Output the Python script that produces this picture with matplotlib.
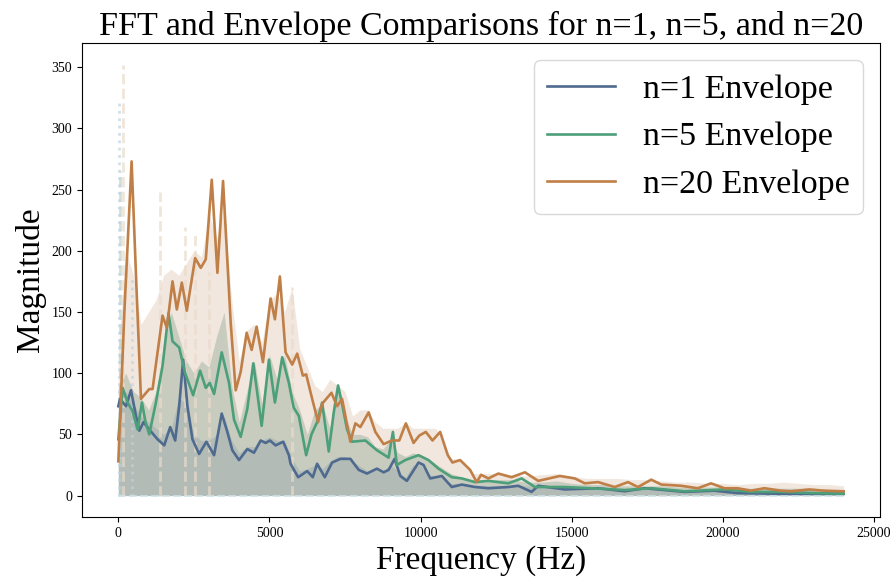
import numpy as np
import matplotlib
matplotlib.use('Agg')
import matplotlib.pyplot as plt

plt.rcParams['font.family'] = ['Liberation Serif', 'DejaVu Serif']

# ---- envelope curves (Hz, magnitude) ----
env1_f = [0, 56, 254, 419, 584, 693, 835, 1023, 1297, 1518, 1716, 1881, 2013, 2145, 2287, 2452,
          2673, 2914, 3168, 3421, 3607, 3772, 3993, 4268, 4488, 4709, 4874, 5016, 5204, 5455,
          5643, 5698, 5950, 6248, 6435, 6577, 6831, 7073, 7348, 7678, 7953, 8227, 8557, 8778,
          8943, 9141, 9329, 9547, 9933, 10098, 10319, 10704, 11033, 11363, 11804, 12243, 12903,
          13233, 13673, 13893, 14774, 15873, 16754, 17413, 18733, 19723, 20493, 21923, 24000]
env1_m = [73, 79, 73, 86, 65, 53, 60, 54, 46, 41, 56, 45, 73, 111, 73, 46,
          34, 44, 33, 67, 52, 37, 29, 38, 35, 45, 43, 45, 41, 44,
          33, 26, 15, 20, 15, 26, 15, 27, 30, 30, 21, 18, 22, 19,
          21, 30, 16, 12, 27, 25, 14, 16, 7, 9, 7, 6, 7,
          8, 3, 8, 5, 6, 3.5, 6, 3, 4, 2, 1.5, 1.5]

env5_f = [0, 142, 307, 472, 637, 781, 900, 1023, 1243, 1463, 1661, 1793, 2013, 2211, 2475, 2706,
          2893, 3025, 3168, 3421, 3663, 3828, 4048, 4268, 4466, 4742, 4983, 5181, 5422, 5643,
          5800, 5973, 6215, 6391, 6577, 6743, 6963, 7128, 7271, 7403, 7568, 7733, 8174, 8557,
          8943, 9085, 9217, 9494, 9933, 10263, 10593, 11033, 11363, 11804, 12243, 12903, 13344,
          13784, 14774, 15652, 16754, 17633, 18733, 20053, 20932, 21923, 23022, 24000]
env5_m = [46, 88, 76, 69, 54, 76, 60, 50, 76, 106, 149, 126, 121, 100, 82, 102,
          88, 92, 83, 117, 92, 62, 48, 71, 108, 57, 111, 76, 113, 92,
          72, 65, 33, 50, 60, 76, 36, 68, 90, 75, 54, 44, 45, 37,
          31, 52, 25, 29, 33, 29, 22, 15, 14, 11, 12, 10, 14,
          7, 7, 6, 4.5, 6, 3.5, 5, 3, 3, 2, 1.5]

env20_f = [0, 200, 439, 600, 749, 1023, 1133, 1463, 1606, 1793, 1936, 2101, 2266, 2541, 2728, 2893,
           3091, 3278, 3465, 3718, 3883, 4048, 4246, 4411, 4576, 4785, 5038, 5181, 5346, 5533,
           5753, 5918, 6105, 6215, 6413, 6611, 6743, 7052, 7237, 7403, 7678, 7843, 8008, 8283,
           8504, 8778, 9052, 9295, 9514, 9768, 9956, 10174, 10395, 10649, 10900, 11055, 11309,
           11639, 11857, 12002, 12243, 12573, 13012, 13454, 13893, 14609, 15104, 15434, 15873,
           16424, 16863, 17193, 17633, 17963, 18623, 19173, 19612, 20053, 20493, 20932, 21374,
           21923, 22253, 22857, 23352, 24000]
env20_m = [28, 150, 273, 170, 79, 87, 87, 147, 137, 175, 152, 174, 151, 194, 186, 193,
           258, 182, 257, 141, 86, 101, 133, 119, 138, 109, 161, 144, 179, 117,
           107, 116, 98, 99, 79, 60, 75, 84, 73, 79, 44, 59, 56, 68,
           52, 42, 45, 45, 59, 43, 49, 52, 45, 52, 33, 27, 29,
           21, 11, 17, 14, 18, 15, 19, 12, 16, 14, 10, 11,
           7, 11, 7, 13, 9, 8, 6, 10, 6, 6, 4, 6,
           4, 3.5, 5, 4, 3.5]

# ---- FFT magnitude (upper edge of the dense spectrum) ----
fft_f = list(range(0, 12001, 250)) + list(range(12500, 24001, 500))
fft1 = [80, 85, 75, 65, 60, 55, 50, 55, 80, 75, 50, 45, 45, 50, 65, 45, 35, 40, 40, 45, 48, 45, 45, 30,
        20, 22, 25, 22, 28, 32, 32, 28, 24, 20, 22, 20, 25, 20, 15, 25, 25, 17, 16, 14, 10, 10, 9, 8, 8,
        8, 8, 8, 7, 6, 8, 6, 6, 6, 6, 6, 5, 5, 4, 5, 5, 5, 4, 4, 3, 4, 4, 4, 3]
fft5 = [90, 100, 85, 80, 70, 85, 120, 150, 130, 110, 100, 110, 105, 130, 150, 90, 60, 85, 110, 75, 115, 95,
        115, 85, 70, 50, 70, 75, 55, 90, 65, 50, 50, 48, 40, 38, 45, 35, 32, 35, 33, 30, 26, 22, 18, 16, 14,
        12, 13, 13, 13, 11, 11, 12, 10, 9, 9, 8, 8, 8, 8, 7, 7, 7, 7, 6, 6, 6, 6, 6, 6, 5, 5]
fft20 = [120, 200, 180, 140, 150, 160, 180, 185, 180, 190, 200, 195, 230, 210, 235, 160, 110, 135, 140, 125,
         160, 165, 150, 170, 120, 105, 90, 85, 95, 90, 85, 65, 70, 70, 60, 55, 55, 55, 60, 55, 55, 55, 55,
         45, 30, 30, 25, 18, 18, 18, 17, 16, 17, 18, 16, 14, 14, 14, 13, 13, 12, 11, 11, 10, 10, 9, 10,
         10, 11, 10, 9, 9, 8]

# isolated tall FFT bins
spike1_f, spike1_m = [30, 440], [323, 179]
spike5_f, spike5_m = [70], [265]
spike20_f, spike20_m = [165, 1390, 2210, 2530, 3000, 5730], [352, 248, 219, 216, 183, 170]

c1, c5, c20 = '#4E6A8E', '#4C9F7A', '#C07F47'

fig, ax = plt.subplots(figsize=(8.92, 5.83), dpi=100)
fig.subplots_adjust(left=0.092, right=0.9865, top=0.926, bottom=0.113)

# dense FFT spectra drawn faintly underneath
ax.fill_between(fft_f, 0, fft20, color='#C9A27E', alpha=0.25, lw=0)
ax.fill_between(fft_f, 0, fft5, color='#7E9C86', alpha=0.35, lw=0)
ax.fill_between(fft_f, 0, fft1, color='#8A9EA6', alpha=0.35, lw=0)
ax.vlines(spike20_f, 0, spike20_m, colors='#EADBCB', linestyles='--', lw=2, alpha=0.7)
ax.vlines(spike5_f, 0, spike5_m, colors='#B5CCBE', linestyles='--', lw=2, alpha=0.6)
ax.vlines(spike1_f, 0, spike1_m, colors='#BCD3E3', linestyles=':', lw=2, alpha=0.7)
ax.plot([0, 24000], [0, 0], color='#CFE3EA', lw=1.5, ls='--', alpha=0.8)

# envelopes
ax.plot(env1_f, env1_m, color=c1, lw=1.9, label='n=1 Envelope')
ax.plot(env5_f, env5_m, color=c5, lw=1.9, label='n=5 Envelope')
ax.plot(env20_f, env20_m, color=c20, lw=1.9, label='n=20 Envelope')

ax.set_xlim(-1200, 25200)
ax.set_ylim(-17.6, 369.6)
ax.set_xticks([0, 5000, 10000, 15000, 20000, 25000])
ax.set_yticks([0, 50, 100, 150, 200, 250, 300, 350])
ax.tick_params(labelsize=10)
ax.set_title('FFT and Envelope Comparisons for n=1, n=5, and n=20', fontsize=24.5)
ax.set_xlabel('Frequency (Hz)', fontsize=24)
ax.set_ylabel('Magnitude', fontsize=24)
ax.legend(loc='upper right', fontsize=24.5, framealpha=0.8, edgecolor='#D0D0D0')

fig.savefig('out.png', dpi=100)
